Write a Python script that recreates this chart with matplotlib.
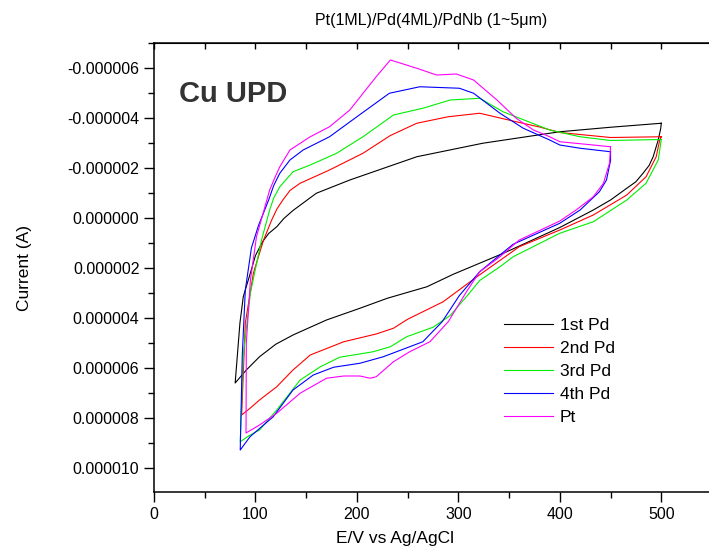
import numpy as np
import matplotlib
matplotlib.use("Agg")
import matplotlib.pyplot as plt
from matplotlib.ticker import MultipleLocator, FuncFormatter

plt.rcParams["font.family"] = ["Liberation Sans", "DejaVu Sans"]

# ===================== DATA (E in mV, I in uA) =====================

# 1st Pd : cathodic branch (500 -> 80), then anodic branch (80 -> 500)
pd1_e = [500, 450, 400, 390, 324, 259, 193, 160, 137, 128, 121, 113, 107, 100, 95, 88, 84.7, 80,
         91, 104, 120, 137, 170, 203, 230, 269, 295, 345, 400, 433, 450, 466, 475, 482, 488, 492, 497, 499.5, 500]
pd1_i = [-3.79, -3.63, -3.45, -3.39, -2.99, -2.45, -1.52, -0.99, -0.3, 0.02, 0.35, 0.62, 0.95, 1.5, 2.2, 3.15, 4.2, 6.6,
         6.08, 5.55, 5.05, 4.68, 4.08, 3.61, 3.21, 2.75, 2.25, 1.4, 0.38, -0.32, -0.72, -1.19, -1.45, -1.79, -2.1, -2.45, -3.12, -3.59, -3.79]

# 2nd Pd
pd2_e = [500, 450, 400, 380, 357, 321, 290, 259, 233, 206, 173, 144, 134, 127, 121, 116, 108, 98, 90, 86.4,
         95, 104, 121, 137, 154, 187, 219, 236, 250, 285, 320, 360, 400, 433, 466, 485, 495, 498.5, 500]
pd2_i = [-3.25, -3.22, -3.42, -3.64, -3.85, -4.19, -4.05, -3.79, -3.3, -2.59, -1.92, -1.39, -1.1, -0.72, -0.35, 0.08, 0.88, 2.2, 4.2, 7.88,
         7.6, 7.28, 6.75, 6.08, 5.48, 4.95, 4.64, 4.41, 4.05, 3.35, 2.3, 1.15, 0.48, -0.12, -0.92, -1.65, -2.45, -3.12, -3.25]

# 3rd Pd
pd3_e = [500, 450, 420, 390, 344, 321, 292, 265, 236, 206, 180, 154, 137, 124, 118, 114, 106, 95, 88, 85,
         94, 104, 121, 144, 164, 183, 216, 233, 249, 275, 292, 311, 321, 341, 354, 400, 433, 466, 485, 497, 500]
pd3_i = [-3.14, -3.1, -3.25, -3.52, -4.25, -4.79, -4.72, -4.39, -4.12, -3.25, -2.59, -2.12, -1.85, -1.25, -0.8, -0.32, 0.88, 3.0, 5.5, 8.95,
         8.7, 8.48, 7.68, 6.48, 5.95, 5.57, 5.35, 5.15, 4.75, 4.37, 3.9, 3.0, 2.5, 1.95, 1.55, 0.61, 0.15, -0.72, -1.39, -2.32, -3.14]

# 4th Pd (scan reversed at 450)
pd4_e = [450, 420, 400, 390, 364, 341, 315, 301, 262, 232, 200, 173, 147, 134, 124, 118, 113, 103, 96, 90, 87, 85,
         94.6, 117.5, 137, 157, 177, 203, 226, 252, 265, 284, 301, 321, 341, 354, 400, 420, 439, 446, 450, 450]
pd4_i = [-2.65, -2.79, -2.92, -3.12, -3.59, -4.19, -4.99, -5.19, -5.25, -4.99, -4.05, -3.25, -2.72, -2.32, -1.79, -1.3, -0.72, 0.3, 1.2, 2.88, 5.5, 9.28,
         8.75, 7.95, 6.88, 6.28, 5.97, 5.81, 5.55, 5.15, 4.95, 4.15, 3.1, 2.15, 1.48, 1.05, 0.21, -0.32, -1.05, -1.52, -2.3, -2.65]

# Pt (scan reversed at 450)
pt_e = [450, 433, 400, 390, 374, 357, 338, 315, 298, 278.5, 259, 233, 219, 193, 173, 154, 134, 124, 119, 114, 101, 95, 91, 90.7,
        104, 121, 144, 170, 187, 203, 213, 219, 236, 252, 262, 272, 290, 308, 321, 341, 360, 400, 416, 433, 443, 449, 450]
pt_i = [-2.85, -2.92, -3.05, -3.25, -3.52, -3.99, -4.72, -5.52, -5.76, -5.72, -5.99, -6.32, -5.65, -4.32, -3.65, -3.25, -2.72, -2.05, -1.6, -1.12, 0.75, 2.5, 5.0, 8.6,
        8.28, 7.81, 7.01, 6.41, 6.32, 6.32, 6.41, 6.35, 5.75, 5.35, 5.15, 4.95, 4.15, 2.95, 2.15, 1.55, 0.88, 0.12, -0.32, -0.85, -1.39, -2.2, -2.85]

labels = ["1st Pd", "2nd Pd", "3rd Pd", "4th Pd", "Pt"]
colors = ["#000000", "#ff0000", "#00ee00", "#0000ff", "#ff00ff"]
curves = [(pd1_e, pd1_i), (pd2_e, pd2_i), (pd3_e, pd3_i), (pd4_e, pd4_i), (pt_e, pt_i)]

# ===================== PLOT =====================

W, H = 709, 551
fig = plt.figure(figsize=(W / 100, H / 100), dpi=100)
ax = fig.add_axes([154 / W, (H - 492) / H, (712 - 154) / W, (492 - 43) / H])

for (e, i), lab, col in zip(curves, labels, colors):
    ax.plot(e, np.array(i) * 1e-6, color=col, lw=0.8, label=lab)

ax.set_xlim(0, 550)
ax.set_ylim(10.96e-6, -7.0e-6)

ax.xaxis.set_major_locator(MultipleLocator(100))
ax.xaxis.set_minor_locator(MultipleLocator(50))
ax.set_yticks(np.arange(-6e-6, 10.5e-6, 2e-6))
ax.yaxis.set_minor_locator(MultipleLocator(1e-6))
ax.yaxis.set_major_formatter(FuncFormatter(lambda v, p: f"{v:.6f}".replace("-0.000000", "0.000000")))

ax.tick_params(which="major", direction="out", length=7, width=1.0, labelsize=11.5)
ax.tick_params(which="minor", direction="out", length=4, width=1.0)
ax.spines["right"].set_visible(False)
for s in ["left", "bottom", "top"]:
    ax.spines[s].set_linewidth(1.1)

top = ax.secondary_xaxis("top")
top.set_xticks(np.arange(0, 551, 50))
top.tick_params(direction="in", length=4, width=1.0, labeltop=False)

fig.text(395 / W, 1 - 539 / H, "E/V vs Ag/AgCl", ha="center", va="center", fontsize=12.5)
fig.text(25 / W, 1 - 268 / H, "Current (A)", ha="center", va="center", rotation=90, fontsize=12.5)
fig.text(431 / W, 1 - 20 / H, "Pt(1ML)/Pd(4ML)/PdNb (1~5\u03bcm)", ha="center", va="center", fontsize=11.5)
fig.text(179 / W, 1 - 101.5 / H, "Cu UPD", ha="left", va="baseline", fontsize=21,
         fontweight="bold", color="#333333")

ax.legend(loc="upper left", bbox_to_anchor=(504 / W, 1 - 318 / H), bbox_transform=fig.transFigure,
          frameon=False, fontsize=12.5, handlelength=2.8, handletextpad=0.4,
          labelspacing=0.45, borderpad=0, borderaxespad=0)

fig.savefig("out.png", dpi=100)
